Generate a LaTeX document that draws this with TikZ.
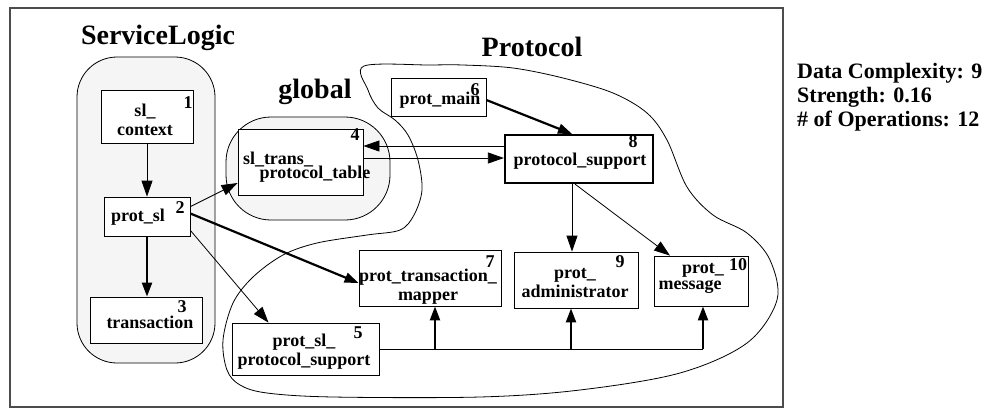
\documentclass[tikz,border=0pt]{standalone}
\usepackage{fontspec}
\setmainfont{Liberation Serif}
\usepackage{tikz}
\usetikzlibrary{positioning, calc, arrows.meta}
\tikzstyle{modbox} = [draw, fill=white, inner sep=0pt, line width=0.8pt]
\tikzstyle{modtext} = [inner sep=0pt, align=center,
font=\fontsize{18}{19}\selectfont\bfseries]
\tikzstyle{modnum} = [inner sep=0pt, font=\fontsize{18}{19}\selectfont\bfseries]
\tikzstyle{grouptitle} = [inner sep=0pt, font=\fontsize{28}{30}\selectfont\bfseries]
\tikzstyle{groupbox} = [draw, fill=black!4, line width=0.8pt]
\tikzstyle{callarrow} = [line width=0.8pt, -{Triangle[length=16pt,width=11pt]}]
\tikzstyle{strongarrow} = [line width=2.2pt, -{Triangle[length=14pt,width=10pt]}]

\begin{document}
\begin{tikzpicture}[x=1pt, y=-1pt]
	\useasboundingbox (0,0) rectangle (1002,408);
	\draw[black!70, line width=1.2pt] (10,8) rectangle (783,407);
	%% Groups
	\draw[groupbox, rounded corners=40pt] (77,57) rectangle (215,363);
	\draw[groupbox, rounded corners=45pt] (226,117) rectangle (390,220);
	\draw[line width=0.8pt] plot[smooth cycle, tension=0.55] coordinates {
		(364,66) (430,65) (463,65) (513,68) (563,78) (613,93) (647,113)
		(667,140) (687,187) (713,215) (747,233) (770,260) (777,300)
		(747,343) (680,373) (580,390) (480,397) (333,397) (267,393)
		(240,385) (227,370) (223,340) (233,303) (253,277) (283,255)
		(317,243) (367,235) (400,230) (414,215) (422,190) (418,160)
		(408,135) (395,120) (378,108) (368,90)};
	\node[grouptitle] (tSL) at (158,38) {ServiceLogic};
	\node[grouptitle] (tGlobal) at (315,92) {global};
	\node[grouptitle] (tProt) at (532,47) {Protocol};
	%% Modules
	\node[modbox, minimum width=92pt, minimum height=53pt] (n1) at (147,116.5) {};
	\node[modbox, minimum width=86pt, minimum height=39pt] (n2) at (147,216.5) {};
	\node[modbox, minimum width=112pt, minimum height=46pt] (n3) at (146,320) {};
	\node[modbox, minimum width=125pt, minimum height=66pt] (n4) at (300.5,162) {};
	\node[modbox, minimum width=147pt, minimum height=52pt] (n5) at (305.5,349) {};
	\node[modbox, minimum width=95pt, minimum height=38pt] (n6) at (438.5,97) {};
	\node[modbox, minimum width=142pt, minimum height=56pt] (n7) at (430,278) {};
	\node[modbox, line width=2.2pt, minimum width=148pt, minimum height=48pt] (n8) at (579,159) {};
	\node[modbox, minimum width=124pt, minimum height=56pt] (n9) at (576,280) {};
	\node[modbox, minimum width=94pt, minimum height=50pt] (n10) at (701,281) {};
	%% Module texts
	\node[modtext] (n1lab) at (145,120) {sl\_\\context};
	\node[modnum] (n1num) at (188,103) {1};
	\node[modtext] (n2lab) at (138,217) {prot\_sl};
	\node[modnum] (n2num) at (180,208) {2};
	\node[modtext] (n3lab) at (150,322) {transaction};
	\node[modnum] (n3num) at (182,307) {3};
	\node[modtext] (n4laba) at (278,160) {sl\_trans\_};
	\node[modtext] (n4labb) at (315,174) {protocol\_table};
	\node[modnum] (n4num) at (355,135) {4};
	\node[modtext] (n5lab) at (304,352) {prot\_sl\_\\protocol\_support};
	\node[modnum] (n5num) at (358,333) {5};
	\node[modtext] (n6lab) at (440,100) {prot\_main};
	\node[modnum] (n6num) at (475,90) {6};
	\node[modtext] (n7lab) at (428,287) {prot\_transaction\_\\mapper};
	\node[modnum] (n7num) at (490,262) {7};
	\node[modtext] (n8lab) at (580,161) {protocol\_support};
	\node[modnum] (n8num) at (633,142) {8};
	\node[modtext] (n9lab) at (575,283) {prot\_\\administrator};
	\node[modnum] (n9num) at (620,262) {9};
	\node[modtext] (n10laba) at (703,270) {prot\_};
	\node[modtext] (n10labb) at (690,287) {message};
	\node[modnum] (n10num) at (738,265) {10};
	%% Metrics
	\node[inner sep=0pt, anchor=west, align=left,
		font=\fontsize{22}{24}\selectfont\bfseries] (stats) at (797,97)
		{Data Complexity: 9\\Strength: 0.16\\\# of Operations: 12};
	%% ServiceLogic calls
	\draw[callarrow] (n1) -- (n2);
	\draw[strongarrow] (n2.south) -- (n2.south |- n3.north);
	\draw[callarrow] ([yshift=-10pt]n2.north east) -- ([yshift=-21pt]n4.west);
	\draw[strongarrow] ([yshift=3pt]n2.east) -- ([yshift=-5pt]n7.west);
	\draw[callarrow] ([yshift=6pt]n2.south east) -- ([xshift=-37pt]n5.north);
	%% global <-> protocol_support
	\draw[callarrow] ([yshift=13pt]n8.west) -- ([yshift=13pt]n8.west -| n4.east);
	\draw[callarrow] ([yshift=4pt]n4.east) -- ([yshift=4pt]n4.east -| n8.west);
	%% Protocol calls
	\draw[strongarrow] ([yshift=-3pt]n6.east) -- ([xshift=-7pt]n8.north);
	\draw[callarrow] ([xshift=-7pt]n8.south) -- ([xshift=-7pt]n8.south |- n9.north);
	\draw[callarrow] ([xshift=-4pt]n8.south) -- ([xshift=-31pt]n10.north);
	%% prot_sl_protocol_support fan-out
	\coordinate (busend) at ([xshift=2pt]n10.south |- n5.east);
	\draw[line width=0.8pt] (n5.east) -- (busend);
	\draw[strongarrow] ([xshift=5pt]n7.south |- n5.east) -- ([xshift=5pt]n7.south);
	\draw[strongarrow] ([xshift=-5pt]n9.south |- n5.east) -- ([xshift=-5pt]n9.south);
	\draw[strongarrow] (busend) -- ([xshift=2pt]n10.south);
\end{tikzpicture}
\end{document}
